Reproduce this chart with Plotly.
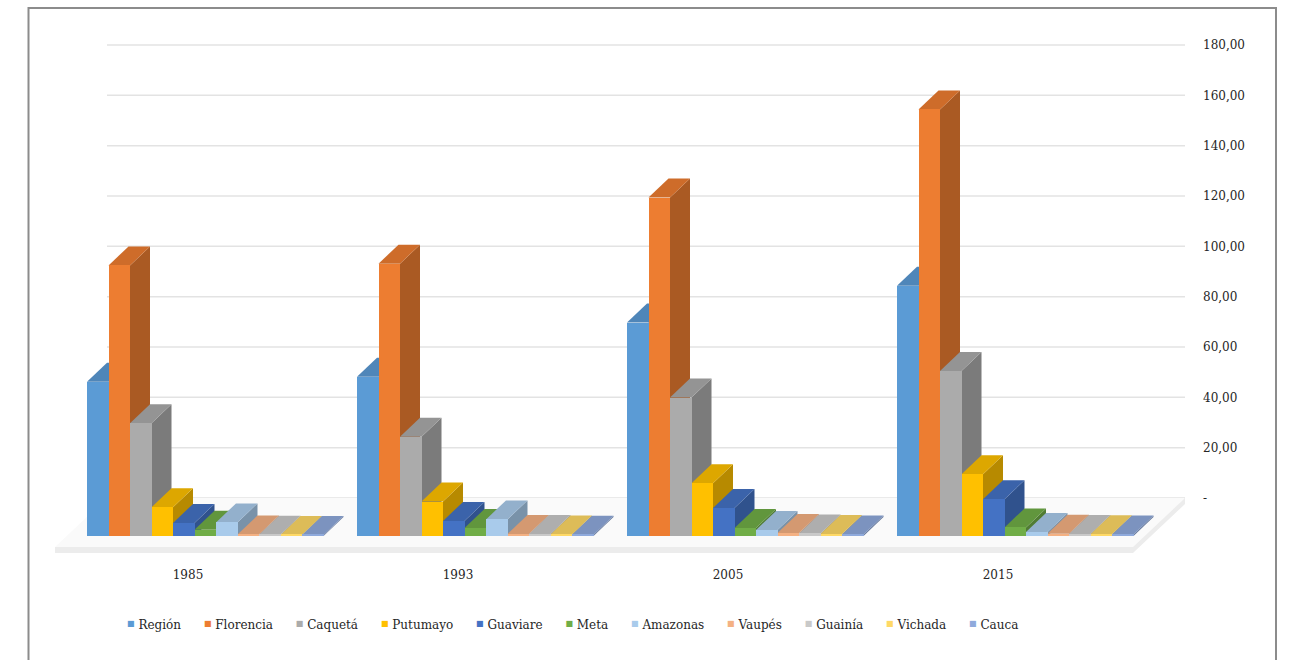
import plotly.graph_objects as go

# ---------------------------------------------------------------- data
years = ["1985", "1993", "2005", "2015"]
series_names = ["Región", "Florencia", "Caquetá", "Putumayo", "Guaviare", "Meta",
                "Amazonas", "Vaupés", "Guainía", "Vichada", "Cauca"]

region = [61.3, 63.3, 84.8, 99.4]
florencia = [107.5, 108.2, 134.5, 169.5]
caqueta = [44.8, 39.4, 55.0, 65.6]
putumayo = [11.4, 13.7, 21.0, 24.5]
guaviare = [5.2, 6.0, 11.1, 14.6]
meta = [2.5, 3.2, 3.2, 3.4]
amazonas = [5.4, 6.6, 2.4, 1.6]
vaupes = [0.6, 0.8, 1.2, 0.9]
guainia = [0.5, 0.8, 1.0, 0.8]
vichada = [0.4, 0.6, 0.8, 0.7]
cauca = [0.4, 0.5, 0.6, 0.6]

series_values = [region, florencia, caqueta, putumayo, guaviare, meta,
                 amazonas, vaupes, guainia, vichada, cauca]

y_ticks = [0, 20, 40, 60, 80, 100, 120, 140, 160, 180]
y_tick_text = ["-", "20,00", "40,00", "60,00", "80,00", "100,00",
               "120,00", "140,00", "160,00", "180,00"]

# ---------------------------------------------------------------- styling
front_colors = ["#5B9BD5", "#ED7D31", "#ABABAB", "#FFC000", "#4472C4", "#70AD47",
                "#A9CBEB", "#F4B183", "#C9C9C9", "#FFD966", "#8FAADC"]

FONT = "DejaVu Serif"
TEXT_COLOR = "#262626"

# oblique "3-D" geometry: x axis in screen pixels, y axis in value units
PX_PER_UNIT = 453 / 180.0          # vertical scale of the value axis
X_START = 87                       # left edge of the first column
GROUP_STEP = 270                   # distance between year groups
BAR_W = 21.5                       # column width
DEPTH_X = 20                       # column depth, horizontal shift
DEPTH_Y = 19 / PX_PER_UNIT         # column depth, vertical shift
FRONT_BASE = -38 / PX_PER_UNIT     # front faces stand in front of the back wall
WALL_LEFT, WALL_RIGHT = 107, 1185  # back wall extent
FLOOR_FRONT = -49 / PX_PER_UNIT
FLOOR_THICK = 6 / PX_PER_UNIT

PLOT_W, PLOT_TOP, PLOT_BOTTOM = 1190, 8, 560
Y_MAX = (498 - PLOT_TOP) / PX_PER_UNIT
Y_MIN = (498 - PLOT_BOTTOM) / PX_PER_UNIT


def shade(hex_color, f):
    h = hex_color.lstrip("#")
    r, g, b = (int(h[i:i + 2], 16) for i in (0, 2, 4))
    return "rgb({},{},{})".format(int(r * f), int(g * f), int(b * f))


def bar_left(group, k):
    return X_START + group * GROUP_STEP + k * BAR_W


def polygon(xs, ys):
    pts = " L".join("{:.2f},{:.3f}".format(x, y) for x, y in zip(xs, ys))
    return "M" + pts + " Z"


shapes = []
# back-wall gridlines
for t in y_ticks:
    shapes.append(dict(type="line", xref="x", yref="y", x0=WALL_LEFT, x1=WALL_RIGHT,
                       y0=t, y1=t, line=dict(color="#e3e3e3", width=1.5), layer="below"))
# floor slab
fl_front_l = WALL_LEFT - 52
fl_front_r = WALL_RIGHT - 52
shapes.append(dict(type="path", xref="x", yref="y", layer="below",
                   path=polygon([fl_front_l, fl_front_r, WALL_RIGHT, WALL_LEFT],
                                [FLOOR_FRONT, FLOOR_FRONT, 0, 0]),
                   fillcolor="#fafafa", line=dict(width=0)))
shapes.append(dict(type="path", xref="x", yref="y", layer="below",
                   path=polygon([fl_front_l, fl_front_r, WALL_RIGHT, WALL_RIGHT,
                                 fl_front_r, fl_front_l],
                                [FLOOR_FRONT, FLOOR_FRONT, 0, -FLOOR_THICK,
                                 FLOOR_FRONT - FLOOR_THICK, FLOOR_FRONT - FLOOR_THICK]),
                   fillcolor="#ececec", line=dict(width=0)))

# side and top faces of every column, behind the front faces (bar traces)
for k, (vals, col) in enumerate(zip(series_values, front_colors)):
    for g, v in enumerate(vals):
        L = bar_left(g, k)
        R = L + BAR_W
        top = FRONT_BASE + v
        shapes.append(dict(type="path", xref="x", yref="y", layer="below",
                           path=polygon([R, R, R + DEPTH_X, R + DEPTH_X],
                                        [FRONT_BASE, top, top + DEPTH_Y, FRONT_BASE + DEPTH_Y]),
                           fillcolor=shade(col, 0.72), line=dict(width=0)))
        shapes.append(dict(type="path", xref="x", yref="y", layer="below",
                           path=polygon([L, R, R + DEPTH_X, L + DEPTH_X],
                                        [top, top, top + DEPTH_Y, top + DEPTH_Y]),
                           fillcolor=shade(col, 0.87), line=dict(width=0)))

# chart frame
shapes.append(dict(type="rect", xref="paper", yref="paper",
                   x0=28.5 / PLOT_W, x1=1276 / PLOT_W,
                   y0=(PLOT_BOTTOM - 720) / (PLOT_BOTTOM - PLOT_TOP), y1=1.0,
                   line=dict(color="#8c8c8c", width=2), fillcolor="rgba(0,0,0,0)"))

fig = go.Figure()

# front faces
for k, (name, vals, col) in enumerate(zip(series_names, series_values, front_colors)):
    fig.add_trace(go.Bar(
        x=[bar_left(g, k) + BAR_W / 2 for g in range(len(years))],
        y=vals, base=FRONT_BASE, width=BAR_W, name=name,
        marker=dict(color=col, line=dict(width=0)),
        showlegend=False,
    ))

# legend row
legend_items = []
for name, col in zip(series_names, front_colors):
    legend_items.append(
        '<span style="color:{};font-size:8px;baseline-shift:3px">■</span> {}'.format(col, name))
legend_text = "&nbsp;&nbsp;&nbsp;&nbsp;&nbsp;&nbsp;".join(legend_items)

fig.update_layout(
    width=1300, height=660,
    margin=dict(l=0, r=1300 - PLOT_W, t=PLOT_TOP, b=660 - PLOT_BOTTOM),
    paper_bgcolor="white", plot_bgcolor="white",
    barmode="overlay", bargap=0,
    font=dict(family=FONT, size=12, color=TEXT_COLOR),
    showlegend=False,
    xaxis=dict(range=[0, PLOT_W], showgrid=False, zeroline=False, showline=False,
               ticks="", tickvals=[bar_left(g, 0) + 101 for g in range(len(years))],
               ticktext=years, tickfont=dict(family=FONT, size=12, color=TEXT_COLOR),
               ticklabelstandoff=6, fixedrange=True),
    yaxis=dict(range=[Y_MIN, Y_MAX], side="right", showgrid=False, zeroline=False,
               showline=False, ticks="", tickvals=y_ticks, ticktext=y_tick_text,
               tickfont=dict(family=FONT, size=12, color=TEXT_COLOR),
               ticklabelstandoff=12, fixedrange=True),
    shapes=shapes,
    annotations=[dict(xref="paper", yref="paper",
                      x=572 / PLOT_W, y=(PLOT_BOTTOM - 625) / (PLOT_BOTTOM - PLOT_TOP),
                      xanchor="center", yanchor="middle", showarrow=False,
                      text=legend_text, font=dict(family=FONT, size=12, color=TEXT_COLOR))],
)

fig.write_html("out.html")
